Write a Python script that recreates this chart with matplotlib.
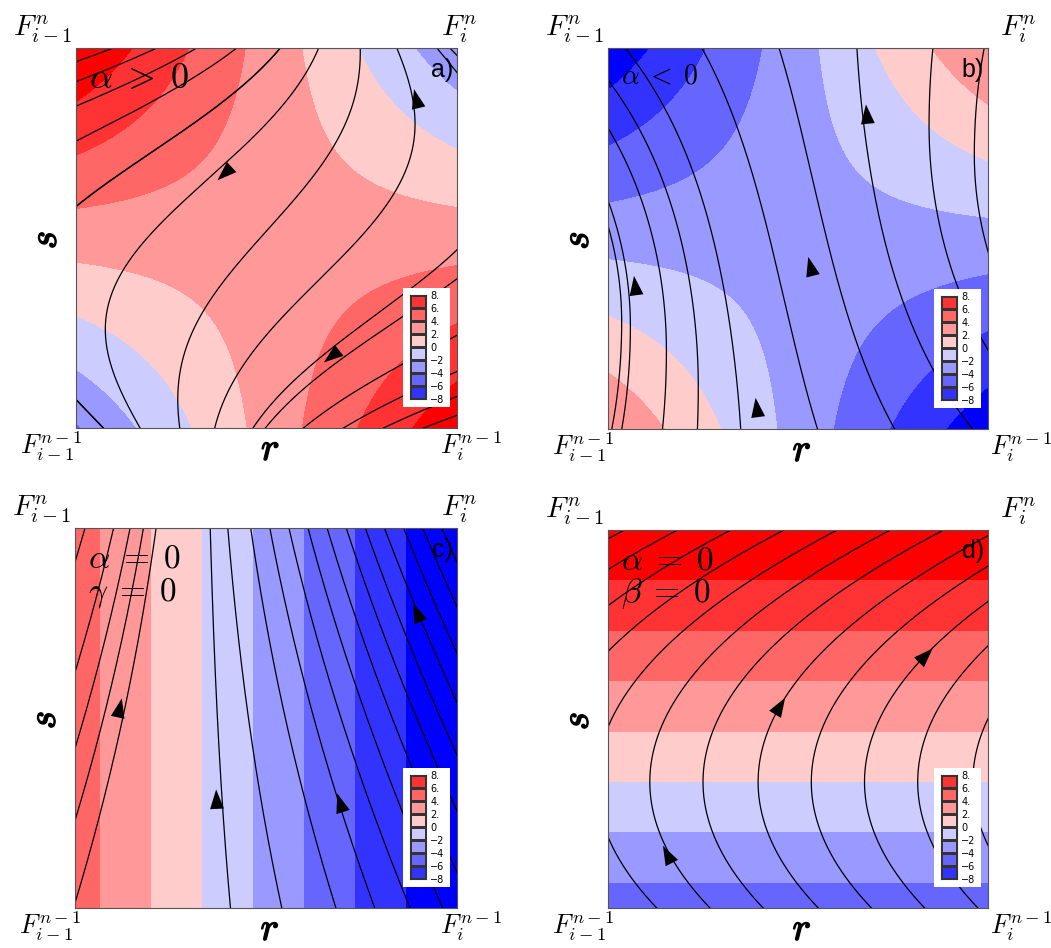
import numpy as np
import matplotlib.pyplot as plt
import matplotlib.patheffects as pe
from matplotlib.colors import ListedColormap

plt.rcParams["mathtext.fontset"] = "cm"

W, H = 1051, 948

# contour bands
levels = [-10, -8, -6, -4, -2, 0, 2, 4, 6, 8, 10]
band_colors = ["#0000ff", "#3333ff", "#6666ff", "#9999ff", "#ccccff",
               "#ffcccc", "#ff9999", "#ff6666", "#ff3333", "#ff0000"]
key_levels = [-8, -6, -4, -2, 0, 2, 4, 6, 8]
key_labels = ["\u22128", "\u22126", "\u22124", "\u22122", "0", "2.", "4.", "6.", "8."]

# F(r, s) = f0 + beta*r + gamma*s + alpha*r*s   (one entry per panel)
panel_tags = ["a)", "b)", "c)", "d)"]
f0 = [-4.2, 4.0, 5.0, -5.0]
beta = [13.8, -13.5, -15.0, 0.0]
gamma = [14.2, -13.5, 0.0, 15.0]
alpha = [-27.3, 27.0, 0.0, 0.0]
# streamline slope dr/ds = gain * F / (1 + |F|/Fsat), gain split by sign of F
gain_pos = [0.30, 0.05, 0.09, 0.19]
gain_neg = [0.30, 0.09, 0.09, 0.19]
Fsat = [1e9, 1e9, 10.0, 1e9]

# streamline seeds (r, s) for each panel
seeds_a = [(0.098, 1), (0.212, 1), (0.317, 1), (0.422, 1), (0.536, 1), (0.637, 1),
           (0.746, 1), (0.842, 1), (0.947, 1), (0.072, 0), (0.497, 0), (0.597, 0),
           (0.702, 0), (0.807, 0), (0.912, 0)]
seeds_b = [(0.0, 0.916), (0.0, 0.79), (0.0, 0.60), (0.045, 1), (0.247, 1), (0.45, 1),
           (0.655, 1), (0.855, 1), (0.99, 1), (0.01, 0)]
seeds_c = [(0.0, 0.91), (0.0, 0.62), (0.0, 0.42), (0.0, 0.23), (0.0, 0.013),
           (0.354, 1), (0.40, 1), (0.46, 1), (0.51, 1), (0.56, 1), (0.61, 1),
           (0.66, 1), (0.71, 1), (0.76, 1), (0.81, 1), (0.86, 1), (0.91, 1), (0.96, 1)]
seeds_d = [(-0.73, 1/3), (-0.59, 1/3), (-0.45, 1/3), (-0.31, 1/3), (-0.17, 1/3),
           (-0.03, 1/3), (0.11, 1/3), (0.25, 1/3), (0.395, 1/3), (0.535, 1/3),
           (0.675, 1/3), (0.815, 1/3), (0.96, 1/3)]
seeds = [seeds_a, seeds_b, seeds_c, seeds_d]

# arrowheads: (r, s, direction)
arrows = [[(0.38, 0.66, -1), (0.66, 0.18, -1), (0.89, 0.88, 1)],
          [(0.07, 0.39, 1), (0.53, 0.44, 1), (0.39, 0.07, 1), (0.68, 0.84, 1)],
          [(0.12, 0.54, 1), (0.37, 0.30, 1), (0.69, 0.29, 1), (0.89, 0.79, 1)],
          [(0.15, 0.154, 1), (0.46, 0.546, 1), (0.846, 0.678, 1)]]

alpha_text = [r"$\alpha\;>\;0$", r"$\alpha\;<\;0$",
              "$\\alpha\\;=\\;0$\n$\\gamma\\;=\\;0$", "$\\alpha\\;=\\;0$\n$\\beta\\;=\\;0$"]
alpha_size = [26, 20, 24, 24]

# axes boxes in pixels: left, top, width, height
boxes = [(76, 48, 381, 380), (608, 48, 380, 381), (75, 528, 382, 380), (608, 530, 380, 378)]
fi_x = [441, 1000, 441, 1000]
fbr_x = [440, 990, 440, 990]

fig = plt.figure(figsize=(W / 100, H / 100), dpi=100)


def px(x, y):
    return x / W, 1 - y / H


def Ffun(i, r, s):
    return f0[i] + beta[i] * r + gamma[i] * s + alpha[i] * r * s


def vel(i, r, s):
    F = Ffun(i, r, s)
    g = np.where(F > 0, gain_pos[i], gain_neg[i])
    return g * F / (1 + np.abs(F) / Fsat[i])


def trace(i, r0, s0):
    # integrate dr/ds = vel both ways from the seed
    parts = []
    for s_end in (0.0, 1.0):
        ss = np.linspace(s0, s_end, 500)
        h = ss[1] - ss[0]
        rr = [r0]
        for s in ss[:-1]:
            r = rr[-1]
            k1 = vel(i, r, s)
            k2 = vel(i, r + h * k1 / 2, s + h / 2)
            k3 = vel(i, r + h * k2 / 2, s + h / 2)
            k4 = vel(i, r + h * k3, s + h)
            rr.append(r + h * (k1 + 2 * k2 + 2 * k3 + k4) / 6)
        parts.append((np.array(rr), ss))
    r_all = np.concatenate([parts[0][0][::-1], parts[1][0][1:]])
    s_all = np.concatenate([parts[0][1][::-1], parts[1][1][1:]])
    return r_all, s_all


rg = np.linspace(0, 1, 300)
R, S = np.meshgrid(rg, rg)

for i in range(4):
    L, T, w, h = boxes[i]
    ax = fig.add_axes([L / W, 1 - (T + h) / H, w / W, h / H])
    Z = Ffun(i, R, S)
    ax.contourf(R, S, Z, levels=levels, colors=band_colors, extend="both")
    for (r0, s0) in seeds[i]:
        rl, sl = trace(i, r0, s0)
        ax.plot(rl, sl, color="black", lw=0.9)
    for (ra, sa, dr) in arrows[i]:
        u = float(vel(i, ra, sa)) * dr
        v = 1.0 * dr
        n = np.hypot(u, v)
        d = 0.012
        ax.annotate("", xy=(ra + d * u / n, sa + d * v / n), xytext=(ra - d * u / n, sa - d * v / n),
                    arrowprops=dict(arrowstyle="-|>,head_length=0.7,head_width=0.25",
                                    lw=0, color="black", mutation_scale=20,
                                    shrinkA=0, shrinkB=0))
    ax.set_xlim(0, 1)
    ax.set_ylim(0, 1)
    ax.set_xticks([])
    ax.set_yticks([])
    for sp in ax.spines.values():
        sp.set_color("#555555")
        sp.set_linewidth(0.8)

    ax.text(0.035, 0.965, alpha_text[i], transform=ax.transAxes, fontsize=alpha_size[i],
            va="top", ha="left", linespacing=1.0)
    ax.text(0.99, 0.975, panel_tags[i], transform=ax.transAxes, fontsize=18,
            va="top", ha="right", family="Liberation Sans")

    # key
    kb = ax.inset_axes([1 - 54 / w, 21 / h, 47 / w, 119 / h])
    kb.set_facecolor("white")
    kb.set_xticks([])
    kb.set_yticks([])
    for sp in kb.spines.values():
        sp.set_visible(False)
    ks = kb.inset_axes([7 / 47, 8 / 119, 16 / 47, 104 / 119])
    ks.pcolormesh([0, 1], key_levels, np.arange(8).reshape(8, 1),
                  cmap=ListedColormap(band_colors[1:9]),
                  edgecolors="#333333", linewidth=0.8)
    ks.set_xlim(0, 1)
    ks.set_ylim(-8, 8)
    ks.set_xticks([])
    ks.set_yticks(key_levels)
    ks.set_yticklabels(key_labels)
    ks.yaxis.tick_right()
    ks.tick_params(axis="y", length=0, pad=3, labelsize=7)
    for sp in ks.spines.values():
        sp.set_color("#333333")

    # corner labels
    fig.text(*px(L - 4, T - 3), r"$F^{n}_{i-1}$", fontsize=21, ha="right", va="bottom")
    fig.text(*px(fi_x[i], T - 3), r"$F^{n}_{i}$", fontsize=21, ha="left", va="bottom")
    fig.text(*px(L - 56, T + h + 2), r"$F^{n-1}_{i-1}$", fontsize=19, ha="left", va="top")
    fig.text(*px(fbr_x[i], T + h + 2), r"$F^{n-1}_{i}$", fontsize=19, ha="left", va="top")
    stroke = [pe.withStroke(linewidth=1.0, foreground="black")]
    fig.text(*px(L + w / 2 + 4, T + h + 21), "$r$", fontsize=28, ha="center", va="center",
             path_effects=stroke)
    fig.text(*px(L - 31, T + h / 2 + 2), "$s$", fontsize=28, ha="center", va="center",
             rotation=90, path_effects=stroke)

fig.savefig("out.png", dpi=100)
